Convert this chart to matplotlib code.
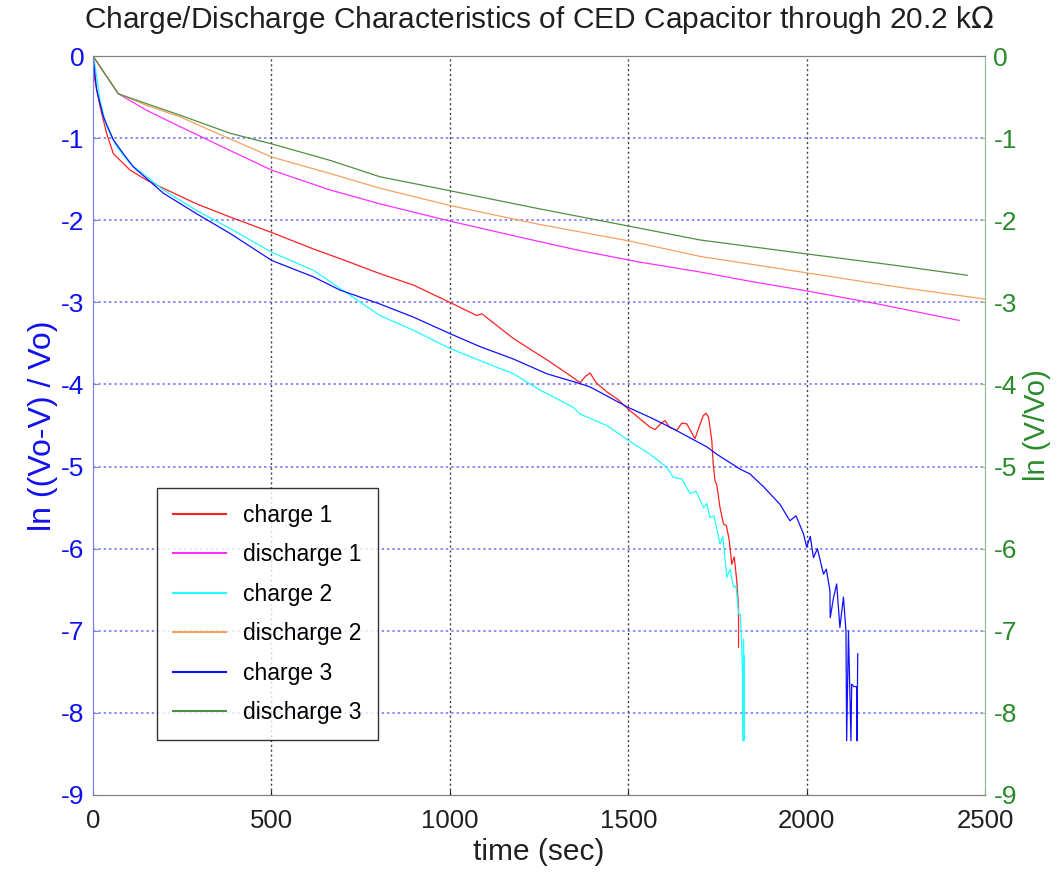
import numpy as np
import matplotlib
matplotlib.use("Agg")
import matplotlib.pyplot as plt

plt.rcParams['font.family'] = ['Liberation Sans', 'DejaVu Sans']
plt.rcParams['axes.unicode_minus'] = False

# charge curves (left axis)
t_charge1 = [0, 1, 5, 20, 38, 57, 104, 150, 197, 290, 384, 501, 618, 700, 804, 898, 1000, 1075, 1090,
             1178, 1272, 1340, 1365, 1380, 1393, 1410, 1440, 1470, 1500, 1533, 1561, 1575, 1590, 1603,
             1615, 1636, 1650, 1664, 1687, 1700, 1710, 1718, 1725, 1734, 1738, 1743, 1748, 1757, 1767,
             1775, 1783, 1790, 1797, 1804, 1809, 1809]
y_charge1 = [0, -0.05, -0.29, -0.62, -0.94, -1.19, -1.39, -1.51, -1.61, -1.80, -1.96, -2.15, -2.35, -2.48,
             -2.65, -2.79, -3.00, -3.16, -3.14, -3.44, -3.70, -3.90, -3.98, -3.90, -3.86, -3.98, -4.09,
             -4.18, -4.30, -4.42, -4.52, -4.55, -4.48, -4.44, -4.52, -4.56, -4.47, -4.48, -4.66, -4.50,
             -4.38, -4.35, -4.40, -4.68, -4.97, -5.17, -5.22, -5.50, -5.70, -5.72, -5.90, -6.19, -6.10,
             -6.39, -6.72, -7.20]

t_charge2 = [0, 5, 20, 38, 66, 104, 197, 290, 384, 501, 618, 692, 804, 898, 1000, 1085, 1178, 1253, 1272,
             1346, 1365, 1440, 1500, 1561, 1608, 1626, 1650, 1673, 1690, 1711, 1720, 1729, 1740, 1757,
             1765, 1776, 1785, 1795, 1802, 1809, 1814, 1818, 1821, 1822, 1823, 1824, 1825]
y_charge2 = [0, -0.10, -0.54, -0.86, -1.10, -1.31, -1.63, -1.88, -2.10, -2.39, -2.61, -2.83, -3.16, -3.34,
             -3.56, -3.71, -3.87, -4.07, -4.11, -4.28, -4.36, -4.50, -4.68, -4.85, -5.01, -5.13, -5.15,
             -5.33, -5.30, -5.50, -5.45, -5.62, -5.60, -5.94, -5.85, -6.35, -6.25, -6.47, -6.45, -6.79,
             -6.80, -7.24, -7.61, -8.34, -7.10, -8.34, -7.30]

t_charge3 = [0, 10, 29, 57, 85, 113, 197, 290, 384, 501, 618, 692, 804, 898, 1000, 1085, 1178, 1272, 1365,
             1393, 1500, 1561, 1626, 1720, 1748, 1813, 1841, 1880, 1925, 1953, 1970, 1991, 2000, 2010,
             2019, 2030, 2047, 2055, 2065, 2066, 2075, 2084, 2093, 2103, 2110, 2112, 2117, 2124, 2126,
             2132, 2140, 2141, 2143]
y_charge3 = [0, -0.41, -0.74, -1.02, -1.19, -1.35, -1.67, -1.92, -2.16, -2.49, -2.69, -2.85, -3.02, -3.18,
             -3.38, -3.54, -3.69, -3.87, -3.99, -4.03, -4.28, -4.40, -4.54, -4.76, -4.85, -5.03, -5.09,
             -5.25, -5.46, -5.66, -5.60, -5.82, -5.98, -5.85, -6.11, -6.00, -6.31, -6.25, -6.51, -6.84,
             -6.60, -6.43, -6.96, -6.59, -7.00, -8.34, -7.00, -8.34, -7.65, -7.68, -7.68, -8.34, -7.28]

# discharge curves (right axis)
t_dis1 = [0, 71, 150, 244, 384, 501, 664, 804, 1000, 1200, 1365, 1533, 1701, 1850, 2000, 2200, 2427]
y_dis1 = [0, -0.46, -0.66, -0.86, -1.15, -1.39, -1.63, -1.80, -2.01, -2.21, -2.37, -2.51, -2.63,
          -2.75, -2.86, -3.02, -3.22]

t_dis2 = [0, 71, 150, 244, 337, 501, 664, 804, 1000, 1250, 1500, 1701, 2000, 2250, 2500]
y_dis2 = [0, -0.46, -0.60, -0.74, -0.92, -1.23, -1.43, -1.61, -1.82, -2.05, -2.25, -2.44, -2.64,
          -2.81, -2.96]

t_dis3 = [0, 71, 150, 244, 384, 501, 664, 804, 1000, 1250, 1500, 1701, 2000, 2250, 2450]
y_dis3 = [0, -0.46, -0.58, -0.72, -0.94, -1.07, -1.27, -1.47, -1.64, -1.86, -2.07, -2.24, -2.41,
          -2.55, -2.67]

xticks = [0, 500, 1000, 1500, 2000, 2500]
yticks = list(range(-9, 1))

fig = plt.figure(figsize=(10.57, 8.76), dpi=100)
ax = fig.add_axes([0.088, 0.0925, 0.844, 0.8435])
ax2 = ax.twinx()

lw = 0.9
h1, = ax.plot(t_charge1, y_charge1, color='#ff2020', lw=lw, label='charge 1')
h3, = ax.plot(t_charge2, y_charge2, color='#20ffff', lw=lw, label='charge 2')
h5, = ax.plot(t_charge3, y_charge3, color='#1010ff', lw=lw, label='charge 3')
h2, = ax2.plot(t_dis1, y_dis1, color='#ff30ff', lw=lw, label='discharge 1')
h4, = ax2.plot(t_dis2, y_dis2, color='#f8a060', lw=lw, label='discharge 2')
h6, = ax2.plot(t_dis3, y_dis3, color='#4f9040', lw=lw, label='discharge 3')

for a in (ax, ax2):
    a.set_xlim(0, 2500)
    a.set_ylim(-9, 0)
    a.set_yticks(yticks)

ax.set_xticks(xticks)
ax.tick_params(axis='x', direction='in', labelsize=18.5, colors='#202020', pad=10)
ax.tick_params(axis='y', direction='in', labelsize=19, colors='#8080e0', labelcolor='#1010ee', pad=6)
ax2.tick_params(axis='y', direction='in', labelsize=19, colors='#90c090', labelcolor='#2a8a2a', pad=6)

# grid
for yv in yticks[1:-1]:
    ax.axhline(yv, color='#6a6aff', ls=(0, (1.5, 2)), lw=1.1, zorder=0)
for xv in xticks[1:-1]:
    ax.axvline(xv, color='#404040', ls=(0, (1.5, 2)), lw=1.0, zorder=0)

for a in (ax, ax2):
    a.spines['top'].set_color('#808080')
    a.spines['bottom'].set_color('#808080')
    a.spines['left'].set_color('#8080e0')
    a.spines['right'].set_color('#90c090')

ax.set_xlabel('time (sec)', fontsize=21.5, color='#202020', labelpad=4)
ax.set_ylabel('ln ((Vo-V) / Vo)', fontsize=23, color='#1010ee', labelpad=2)
ax2.set_ylabel('ln (V/Vo)', fontsize=21, color='#2a8a2a', labelpad=4)
ax.set_title('Charge/Discharge Characteristics of CED Capacitor through 20.2 k$\\Omega$',
             fontsize=21.5, color='#202020', pad=20)

leg = ax2.legend(handles=[h1, h2, h3, h4, h5, h6], loc='lower left', bbox_to_anchor=(0.072, 0.074),
                 borderaxespad=0, fontsize=16.5, frameon=True, fancybox=False, handlelength=2.3,
                 handletextpad=0.75, labelspacing=0.72, borderpad=0.7)
leg.get_frame().set_edgecolor('black')
leg.get_frame().set_linewidth(1.0)
for line in leg.get_lines():
    line.set_linewidth(1.5)

fig.savefig('out.png', dpi=100)
